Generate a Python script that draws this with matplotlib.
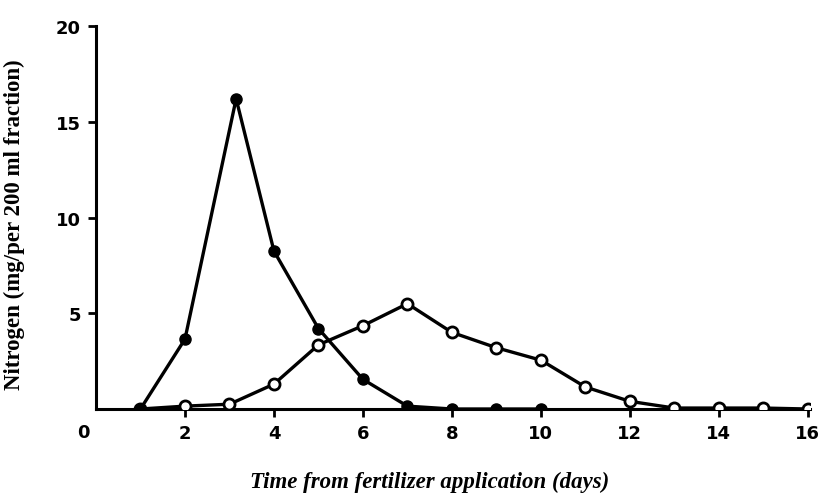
import matplotlib
matplotlib.use("Agg")
import matplotlib.pyplot as plt

# values
days_filled = [1, 2, 3.15, 4, 5, 6, 7, 8, 9, 10]
n_filled = [0.0, 3.65, 16.2, 8.25, 4.2, 1.55, 0.15, 0.0, 0.0, 0.0]

days_open = [1, 2, 3, 4, 5, 6, 7, 8, 9, 10, 11, 12, 13, 14, 15, 16]
n_open = [0.0, 0.15, 0.25, 1.3, 3.35, 4.35, 5.5, 4.0, 3.2, 2.55, 1.15, 0.4, 0.05, 0.05, 0.05, 0.0]

xticks = [2, 4, 6, 8, 10, 12, 14, 16]
yticks = [5, 10, 15, 20]

fig = plt.figure(figsize=(8.22, 5.02), dpi=100)
ax = fig.add_axes([96 / 822, 1 - 410 / 502, (810 - 96) / 822, (410 - 27) / 502])

ax.plot(days_open, n_open, color="black", lw=2.4, marker="o", ms=8,
        mfc="white", mec="black", mew=2.0, zorder=3)
ax.plot(days_filled, n_filled, color="black", lw=2.4, marker="o", ms=8,
        mfc="black", mec="black", zorder=4)

ax.set_xlim(0, 16.05)
ax.set_ylim(0, 20)
ax.spines["top"].set_visible(False)
ax.spines["right"].set_visible(False)
ax.spines["left"].set_linewidth(2.2)
ax.spines["bottom"].set_linewidth(2.2)

ax.set_xticks(xticks)
ax.set_yticks(yticks)
ax.tick_params(axis="both", direction="out", length=6, width=2.0,
               labelsize=13, pad=5)
for lab in ax.get_xticklabels() + ax.get_yticklabels():
    lab.set_fontweight("bold")
    lab.set_fontfamily("DejaVu Sans")

fig.text(83 / 822, 1 - 433 / 502, "0", fontsize=13, fontweight="bold",
         ha="center", va="center")

fig.text(14 / 822, 1 - 225 / 502, "Nitrogen (mg/per 200 ml fraction)",
         rotation=90, ha="center", va="center", fontsize=16.5,
         family="Liberation Serif", fontweight="bold")
fig.text(430 / 822, 1 - 482 / 502, "Time from fertilizer application (days)",
         ha="center", va="center", fontsize=16.5, family="Liberation Serif",
         style="italic", fontweight="bold")

fig.savefig("out.png", dpi=100, facecolor="white")
